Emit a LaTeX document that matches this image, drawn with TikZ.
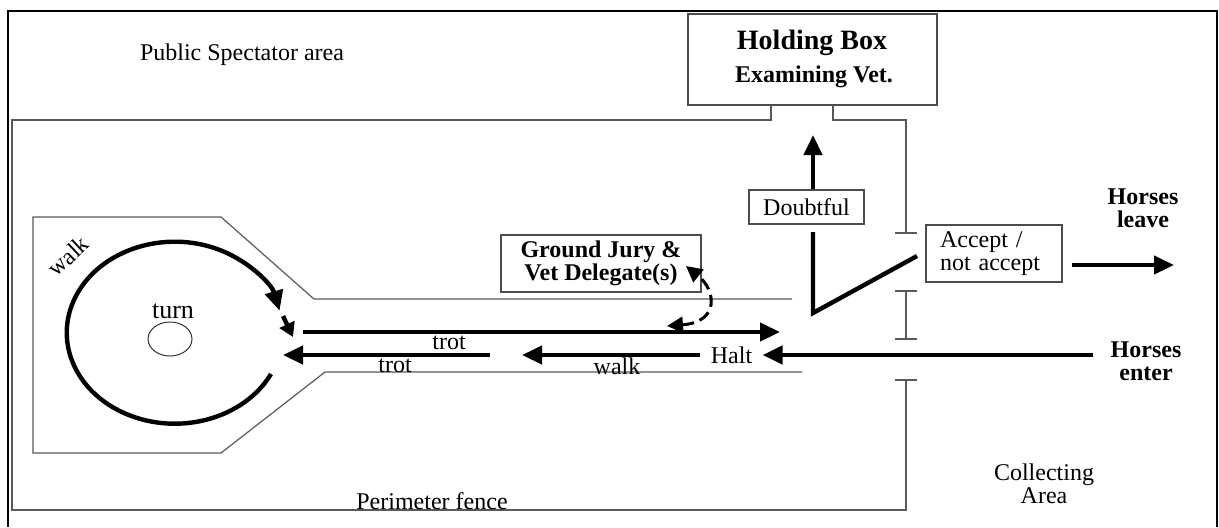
\documentclass[tikz,border=0pt]{standalone}
\usepackage{fontspec}
\setmainfont{Liberation Serif}
\usetikzlibrary{arrows.meta}
\tikzset{fence/.style={draw=black!65, line width=0.6pt},
 frame/.style={draw, line width=1.1pt},
 move/.style={line width=2.2pt, -{Triangle[length=10pt,width=9pt]}},
 lbox/.style={draw=black!70, line width=0.6pt, rectangle, inner sep=0pt},
 bold/.style={font=\fontsize{12}{11.5}\selectfont\bfseries}}

\begin{document}
\begin{tikzpicture}[x=0.5pt, y=-0.5pt]
\tikzstyle{every node}=[font=\fontsize{12}{11.5}\selectfont]
\useasboundingbox (0,0) rectangle (1219,527);
\draw[frame] (8,527) -- (8,11) -- (1217,11) -- (1217,527);
\node (spect) at (242,55) {Public Spectator area};
\node[lbox, minimum width=124.5pt, minimum height=45.5pt] (hold) at (812.5,59.5) {};
\node[font=\fontsize{14}{16}\selectfont\bfseries] (holdname) at (812,43) {Holding Box};
\node[bold] (vet) at (814,77) {Examining Vet.};
\draw[fence] (771,105) -- (771,120) -- (12,120) -- (12,510) -- (906,510) -- (906,380);
\draw[fence] (833,105) -- (833,120) -- (906,120) -- (906,233);
\draw[fence] (906,291) -- (906,339);
\foreach \y in {233,291,339,380} \draw[fence] (895,\y) -- (917,\y);
\draw[fence] (792,299) -- (314,299) -- (221,217) -- (33,217) -- (33,453) -- (221,453) -- (325,372) -- (802,372);
\coordinate (walkS) at (271,374);
\draw[move] (walkS) arc[start angle=27, end angle=346, x radius=108, y radius=91];
\coordinate (turnA) at (283,316);
\coordinate (turnB) at (293,337);
\draw[line width=2.2pt, -{Triangle[length=7pt,width=8pt]}] (turnA) -- (turnB);
\node[rotate=43] (walkc) at (68,256) {walk};
\node[font=\fontsize{13}{15}\selectfont] (turn) at (173,311) {turn};
\draw[draw=black!80, line width=0.5pt] (170,339) ellipse [x radius=22, y radius=17];
\coordinate (trotA) at (303,332);
\coordinate (trotB) at (780,332);
\draw[move] (trotA) -- (trotB);
\node (trotup) at (449,343) {trot};
\coordinate (trotC) at (490,355);
\coordinate (trotD) at (283,355);
\draw[move] (trotC) -- (trotD);
\node (trotlow) at (395,366) {trot};
\node[inner sep=5pt] (halt) at (731.5,355) {Halt};
\coordinate (walkE) at (522,355);
\draw[move] (halt.west) -- (walkE);
\node (walkch) at (617,366) {walk};
\node[bold, align=center] (enter) at (1146,361.5) {Horses\\enter};
\coordinate (enterS) at (1093,355);
\draw[move] (enterS) -- (halt.east);
\node[lbox, bold, minimum width=100pt, minimum height=28.5pt, align=center] (jury) at (601,263.5) {Ground Jury \&\\Vet Delegate(s)};
\coordinate (juryA) at (686,266);
\coordinate (juryB) at (667,326);
\draw[line width=1.5pt, dash pattern=on 6pt off 3pt, {Triangle[length=8pt,width=8pt]}-{Triangle[length=8pt,width=8pt]}] (juryB) .. controls (720,322) and (716,290) .. (juryA);
\node[lbox, minimum width=57.5pt, minimum height=17pt] (doubt) at (806.5,207) {Doubtful};
\coordinate (holdIn) at (813,135);
\draw[move] (doubt.north -| holdIn) -- (holdIn);
\coordinate (gateA) at (813,232);
\coordinate (gateB) at (813,313);
\coordinate (gateC) at (917,256);
\draw[line width=2.2pt] (gateA) -- (gateB) -- (gateC);
\node[lbox, text width=54pt, inner xsep=7pt, minimum height=28.5pt, align=left] (accept) at (994,253.5) {Accept /\\not accept};
\coordinate (leaveA) at (1072,265);
\coordinate (leaveB) at (1174,265);
\draw[move] (leaveA) -- (leaveB);
\node[bold, align=center] (leave) at (1143,208) {Horses\\leave};
\node[align=center] (collect) at (1044,483.5) {Collecting\\Area};
\node[anchor=base] (perim) at (432,509) {Perimeter fence};
\end{tikzpicture}
\end{document}
